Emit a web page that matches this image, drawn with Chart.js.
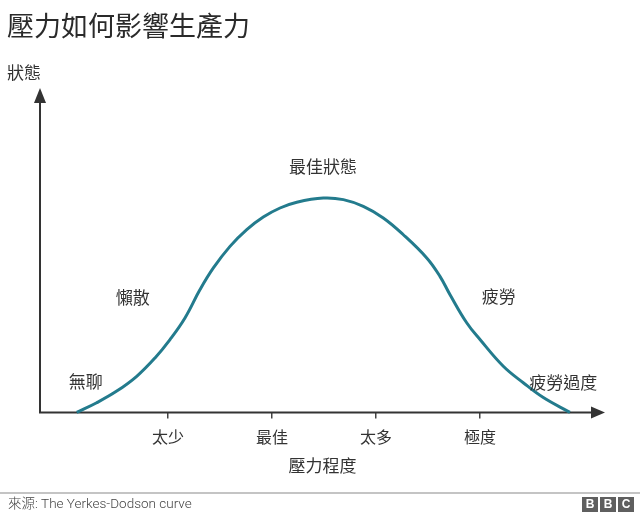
<!DOCTYPE html>
<html>
<head>
<meta charset="utf-8">
<script src="https://cdn.jsdelivr.net/npm/chart.js@4/dist/chart.umd.min.js"></script>
<style>
  html, body { margin: 0; padding: 0; background: #fff; }
  #wrap { position: relative; width: 640px; height: 516px; overflow: hidden;
          font-family: "Noto Sans CJK TC", "Noto Sans", sans-serif; color: #333; }
  canvas { position: absolute; left: 0; top: 0; }
  #title { position: absolute; left: 7px; top: 5px; font-size: 27px; line-height: 40px; color: #2a2a2a; }
  #ylab { position: absolute; left: 7px; top: 61px; font-size: 17px; line-height: 22px; color: #333; }
  #rule { position: absolute; left: 0; top: 492px; width: 640px; height: 2px; background: #c4c4c4; }
  #source { position: absolute; left: 8px; top: 494px; font-size: 13.5px; line-height: 18px; color: #444;
            font-family: Roboto, "Noto Sans CJK TC", sans-serif; font-weight: 300; }
  #bbc { position: absolute; left: 582px; top: 497px; display: flex; gap: 2px; }
  #bbc span { display: block; width: 16px; height: 15px; background: #5f5f5f; color: #fff;
              font: bold 12px/15px "Liberation Sans", Arial, sans-serif; text-align: center; }
</style>
</head>
<body>
<div id="wrap">
  <canvas id="myChart" width="640" height="516"></canvas>
  <div id="title">壓力如何影響生產力</div>
  <div id="ylab">狀態</div>
  <div id="rule"></div>
  <div id="source">來源: The Yerkes-Dodson curve</div>
  <div id="bbc"><span>B</span><span>B</span><span>C</span></div>
</div>
<script>
// Nivel de estrés (x) en unidades de las marcas: 太少=1 ... 極度=4
const estresTicks = [1, 2, 3, 4];
const estresEtiquetas = ['太少', '最佳', '太多', '極度'];

// Curva: rendimiento (y, 0-100) frente a estrés (x)
const estres = [0.122, 0.314, 0.507, 0.699, 0.875, 1.019, 1.163, 1.308, 1.436, 1.596, 1.757,
                1.916, 2.077, 2.238, 2.493, 2.686, 2.878, 3.07, 3.263, 3.488, 3.615, 3.712,
                3.872, 4.0, 4.224, 4.416, 4.609, 4.865];
const rendimiento = [0, 3.0, 6.6, 11.2, 16.9, 22.6, 29.3, 38.1, 44.8, 51.5, 56.7,
                     60.6, 63.4, 65.2, 66.5, 66.0, 63.9, 60.3, 55.1, 47.9, 42.2, 36.5,
                     27.8, 22.6, 14.3, 9.2, 4.6, 0];

// Nombres de las zonas de la curva
const zonas = ['無聊', '懶散', '最佳狀態', '疲勞', '疲勞過度'];

Chart.defaults.font.family = '"Noto Sans CJK TC", "Noto Sans", sans-serif';
Chart.defaults.color = '#333';

// Ejes con flechas
const ejesConFlecha = {
    id: 'ejesConFlecha',
    beforeDatasetsDraw(chart) {
        const { ctx, chartArea: a } = chart;
        ctx.save();
        ctx.strokeStyle = '#333';
        ctx.fillStyle = '#333';
        ctx.lineWidth = 2;
        ctx.beginPath();
        ctx.moveTo(a.left, a.bottom);
        ctx.lineTo(a.left, a.top + 10);
        ctx.moveTo(a.left - 1, a.bottom);
        ctx.lineTo(a.right - 10, a.bottom);
        ctx.stroke();
        // flecha vertical
        ctx.beginPath();
        ctx.moveTo(a.left, a.top - 2);
        ctx.lineTo(a.left - 6, a.top + 13);
        ctx.lineTo(a.left + 6, a.top + 13);
        ctx.closePath();
        ctx.fill();
        // flecha horizontal
        ctx.beginPath();
        ctx.moveTo(a.right, a.bottom);
        ctx.lineTo(a.right - 14, a.bottom - 6);
        ctx.lineTo(a.right - 14, a.bottom + 6);
        ctx.closePath();
        ctx.fill();
        ctx.restore();
    }
};

// Etiquetas de las zonas, ancladas en coordenadas de datos
const etiquetasZonas = {
    id: 'etiquetasZonas',
    afterDatasetsDraw(chart, args, opts) {
        const { ctx, scales: { x, y } } = chart;
        ctx.save();
        ctx.font = '17px "Noto Sans CJK TC", sans-serif';
        ctx.fillStyle = '#333';
        ctx.textAlign = 'center';
        ctx.textBaseline = 'middle';
        zonas.forEach((txt, i) => {
            const p = opts.anclas[i];
            ctx.fillText(txt, x.getPixelForValue(p[0]), y.getPixelForValue(p[1]));
        });
        ctx.restore();
    }
};

const ctx = document.getElementById('myChart').getContext('2d');
const chart = new Chart(ctx, {
    type: 'line',
    data: {
        datasets: [{
            label: '狀態',
            data: estres.map((v, i) => ({ x: v, y: rendimiento[i] })),
            borderColor: '#237b8d',
            borderWidth: 3,
            pointRadius: 0,
            tension: 0.4,
            fill: false,
            clip: false
        }]
    },
    options: {
        responsive: false,
        animation: false,
        events: [],
        layout: { padding: { left: 40, right: 35, top: 90, bottom: 36 } },
        plugins: {
            legend: { display: false },
            tooltip: { enabled: false },
            etiquetasZonas: {
                anclas: [[0.21, 9.5], [0.66, 35.5], [2.49, 76.2], [4.18, 36.0], [4.80, 9.2]]
            }
        },
        scales: {
            x: {
                type: 'linear',
                min: -0.231,
                max: 5.202,
                afterBuildTicks: (scale) => { scale.ticks = estresTicks.map(v => ({ value: v })); },
                ticks: {
                    autoSkip: false,
                    maxRotation: 0,
                    padding: 9,
                    font: { size: 16 },
                    color: '#333',
                    callback: (v) => estresEtiquetas[estresTicks.indexOf(v)]
                },
                grid: {
                    drawOnChartArea: false,
                    drawTicks: true,
                    tickLength: 6,
                    color: '#444',
                    lineWidth: 1.5
                },
                border: { display: false },
                title: {
                    display: true,
                    text: '壓力程度',
                    font: { size: 17 },
                    color: '#333',
                    padding: { top: 0, bottom: 4 }
                }
            },
            y: {
                display: false,
                min: 0,
                max: 100
            }
        }
    },
    plugins: [ejesConFlecha, etiquetasZonas]
});
</script>
</body>
</html>
